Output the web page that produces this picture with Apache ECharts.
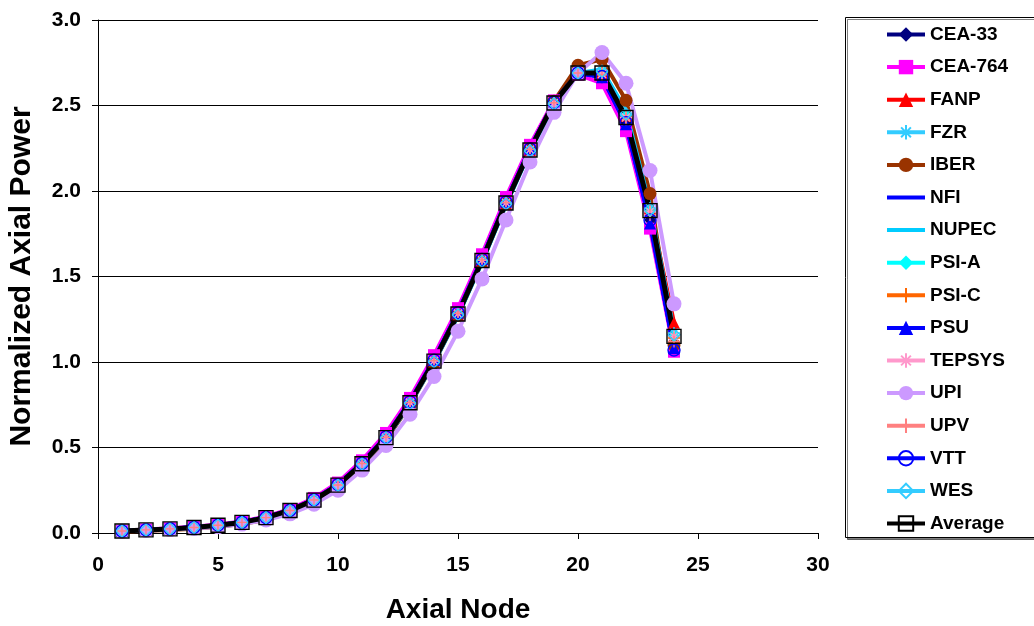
<!DOCTYPE html>
<html>
<head>
<meta charset="utf-8">
<script src="https://cdn.jsdelivr.net/npm/echarts@6/dist/echarts.min.js"></script>
<style>html,body{margin:0;padding:0;background:#fff}#c{width:1034px;height:626px}</style>
</head>
<body>
<div id="c"></div>
<script>
const nodes = [1,2,3,4,5,6,7,8,9,10,11,12,13,14,15,16,17,18,19,20,21,22,23,24];
const cea33  = [0.012,0.018,0.024,0.032,0.044,0.062,0.09,0.132,0.193,0.282,0.408,0.562,0.766,1.01,1.287,1.6,1.936,2.246,2.52,2.69,2.67,2.40,1.83,1.08];
const cea764 = [0.013,0.021,0.028,0.036,0.05,0.068,0.097,0.14,0.205,0.295,0.425,0.585,0.79,1.04,1.315,1.63,1.965,2.27,2.53,2.68,2.63,2.35,1.78,1.06];
const fanp   = [0.012,0.018,0.024,0.031,0.043,0.06,0.087,0.128,0.188,0.275,0.4,0.553,0.757,1.0,1.275,1.588,1.925,2.238,2.51,2.69,2.69,2.44,1.9,1.23];
const fzr    = [0.012,0.018,0.025,0.032,0.045,0.062,0.09,0.131,0.192,0.279,0.404,0.557,0.76,1.003,1.278,1.59,1.926,2.237,2.51,2.69,2.7,2.45,1.9,1.17];
const iber   = [0.008,0.013,0.018,0.025,0.036,0.052,0.078,0.118,0.178,0.265,0.39,0.545,0.75,0.995,1.272,1.587,1.926,2.245,2.525,2.735,2.77,2.53,1.985,1.1];
const nfi    = [0.012,0.019,0.025,0.033,0.046,0.064,0.092,0.134,0.196,0.285,0.41,0.565,0.77,1.015,1.292,1.605,1.94,2.25,2.52,2.69,2.67,2.39,1.82,1.08];
const nupec  = [0.012,0.018,0.024,0.032,0.045,0.062,0.09,0.131,0.19,0.277,0.4,0.552,0.753,0.995,1.27,1.582,1.918,2.232,2.505,2.69,2.71,2.47,1.91,1.18];
const psiA   = [0.012,0.018,0.024,0.032,0.045,0.062,0.09,0.132,0.192,0.28,0.404,0.557,0.76,1.004,1.28,1.592,1.928,2.24,2.512,2.69,2.69,2.44,1.88,1.15];
const psiC   = [0.01,0.016,0.022,0.03,0.042,0.059,0.086,0.127,0.188,0.276,0.4,0.555,0.76,1.005,1.282,1.596,1.932,2.243,2.515,2.69,2.69,2.43,1.88,1.14];
const psu    = [0.012,0.019,0.025,0.033,0.046,0.063,0.091,0.133,0.195,0.284,0.409,0.563,0.768,1.012,1.29,1.603,1.938,2.248,2.52,2.69,2.665,2.39,1.81,1.08];
const tepsys = [0.012,0.018,0.024,0.032,0.045,0.062,0.09,0.132,0.193,0.28,0.405,0.558,0.762,1.006,1.283,1.595,1.931,2.242,2.515,2.69,2.685,2.43,1.88,1.15];
const upi    = [0.01,0.015,0.02,0.027,0.037,0.052,0.076,0.112,0.168,0.25,0.368,0.512,0.695,0.915,1.18,1.486,1.83,2.17,2.46,2.69,2.81,2.63,2.12,1.34];
const upv    = [0.012,0.018,0.024,0.032,0.045,0.062,0.09,0.132,0.193,0.281,0.406,0.56,0.764,1.008,1.285,1.597,1.933,2.244,2.516,2.69,2.68,2.42,1.86,1.12];
const vtt    = [0.012,0.019,0.025,0.033,0.046,0.063,0.091,0.133,0.195,0.283,0.408,0.562,0.767,1.011,1.288,1.6,1.935,2.246,2.518,2.69,2.67,2.40,1.83,1.07];
const wes    = [0.012,0.018,0.024,0.032,0.045,0.062,0.09,0.131,0.192,0.279,0.403,0.556,0.758,1.002,1.277,1.589,1.925,2.236,2.51,2.69,2.7,2.45,1.89,1.16];
const average= [0.012,0.018,0.024,0.032,0.045,0.062,0.09,0.132,0.192,0.28,0.405,0.558,0.762,1.005,1.281,1.594,1.93,2.24,2.515,2.69,2.69,2.43,1.885,1.15];
const xTicks = [0,5,10,15,20,25,30];
const yTicks = [0.0,0.5,1.0,1.5,2.0,2.5,3.0];

const ASTER = 'path://M5,0L5,10M0,5L10,5M1.6,1.6L8.4,8.4M8.4,1.6L1.6,8.4';
const PLUS = 'path://M5,0L5,10M0,5L10,5';

const seriesDefs = [
  {name:'CEA-33', data:cea33, color:'#000080', symbol:'diamond', size:12},
  {name:'CEA-764', data:cea764, color:'#FF00FF', symbol:'rect', size:12},
  {name:'FANP', data:fanp, color:'#FF0000', symbol:'triangle', size:12},
  {name:'FZR', data:fzr, color:'#33CCFF', symbol:ASTER, size:12, stroke:true},
  {name:'IBER', data:iber, color:'#993300', symbol:'circle', size:13},
  {name:'NFI', data:nfi, color:'#0000FF', symbol:'none', size:0},
  {name:'NUPEC', data:nupec, color:'#00CCFF', symbol:'none', size:0},
  {name:'PSI-A', data:psiA, color:'#00FFFF', symbol:'diamond', size:12},
  {name:'PSI-C', data:psiC, color:'#FF6600', symbol:PLUS, size:12, stroke:true},
  {name:'PSU', data:psu, color:'#0000FF', symbol:'triangle', size:12},
  {name:'TEPSYS', data:tepsys, color:'#FF99CC', symbol:ASTER, size:12, stroke:true},
  {name:'UPI', data:upi, color:'#CC99FF', symbol:'circle', size:15},
  {name:'UPV', data:upv, color:'#FF8080', symbol:PLUS, size:12, stroke:true},
  {name:'VTT', data:vtt, color:'#0000FF', symbol:'circle', size:12, open:true},
  {name:'WES', data:wes, color:'#33CCFF', symbol:'diamond', size:12, open:true},
  {name:'Average', data:average, color:'#000000', symbol:'rect', size:14, open:true, width:5}
];

const series = seriesDefs.map(d => {
  const itemStyle = (d.stroke || d.open)
    ? {color:'rgba(0,0,0,0)', borderColor:d.color, borderWidth:1.4}
    : {color:d.color, borderWidth:0};
  return {
    name:d.name, type:'line',
    data: nodes.map((n,i)=>[n,d.data[i]]),
    symbol:d.symbol, symbolSize:d.size, showSymbol:d.symbol!=='none',
    lineStyle:{color:d.color, width:d.width||4},
    itemStyle:itemStyle,
    emphasis:{disabled:true},
    animation:false
  };
});

const legendData = seriesDefs.map(d => d.symbol === 'none'
  ? {name:d.name, itemStyle:{opacity:0}}
  : {name:d.name});

const chart = echarts.init(document.getElementById('c'), null, {renderer:'canvas'});
const FONT = '"Liberation Sans", Arial, sans-serif';
chart.setOption({
  backgroundColor:'#fff',
  animation:false,
  grid:{left:98, right:216, top:20, bottom:93, containLabel:false, outerBoundsMode:'none'},
  xAxis:{
    type:'value', min:xTicks[0], max:xTicks[xTicks.length-1], interval:5,
    name:'Axial Node', nameLocation:'middle', nameGap:63,
    nameTextStyle:{fontFamily:FONT, fontWeight:'bold', fontSize:28, color:'#000'},
    axisLine:{show:true, onZero:false, lineStyle:{color:'#000', width:1}},
    axisTick:{show:true, inside:false, length:6, lineStyle:{color:'#000'}},
    axisLabel:{fontFamily:FONT, fontWeight:'bold', fontSize:21, color:'#000', margin:22},
    splitLine:{show:false}
  },
  yAxis:{
    type:'value', min:yTicks[0], max:yTicks[yTicks.length-1], interval:0.5,
    name:'Normalized Axial Power', nameLocation:'middle', nameGap:61,
    nameTextStyle:{fontFamily:FONT, fontWeight:'bold', fontSize:30, color:'#000'},
    axisLine:{show:true, lineStyle:{color:'#000', width:1}},
    axisTick:{show:true, inside:false, length:6, lineStyle:{color:'#000'}},
    axisLabel:{fontFamily:FONT, fontWeight:'bold', fontSize:21, color:'#000', margin:17,
      formatter: v => v.toFixed(1)},
    splitLine:{show:true, lineStyle:{color:'#000', width:1}}
  },
  legend:{
    orient:'vertical', left:880, top:20,
    itemWidth:38, itemHeight:18, itemGap:13.6,
    lineStyle:{width:4},
    textStyle:{fontFamily:FONT, fontWeight:'bold', fontSize:19, color:'#000'},
    data: legendData
  },
  graphic:[{
    type:'rect', left:845, top:17, z:-1,
    shape:{x:0,y:0,width:190,height:520},
    style:{fill:'#fff', stroke:'#000', lineWidth:1, shadowColor:'rgba(0,0,0,0.5)', shadowOffsetX:2, shadowOffsetY:2, shadowBlur:0}
  }],
  series:series
});
</script>
</body>
</html>
